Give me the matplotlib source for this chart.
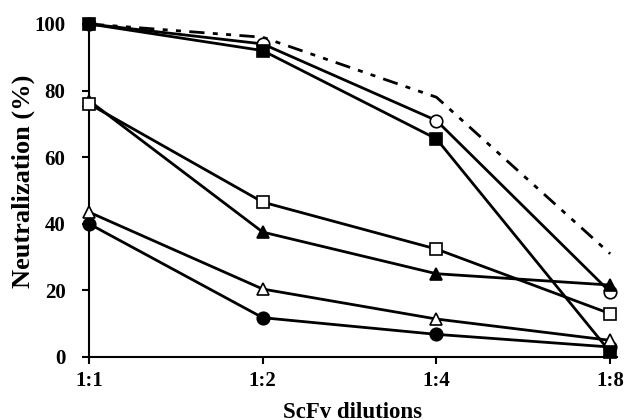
import matplotlib
matplotlib.use("Agg")
import matplotlib.pyplot as plt

dilutions = ["1:1", "1:2", "1:4", "1:8"]
filled_square = [100, 92, 65.5, 1.5]
open_circle = [100, 94, 71, 19.5]
dash_dot = [100, 96, 78, 31]
open_square = [76, 46.5, 32.4, 13]
filled_triangle = [77, 37.5, 25, 21.6]
open_triangle = [43.5, 20.4, 11.4, 5]
filled_circle = [40, 11.8, 6.8, 3]

plt.rcParams["font.family"] = "Liberation Serif"
plt.rcParams["font.weight"] = "bold"

fig = plt.figure(figsize=(6.25, 4.2), dpi=100)
ax = fig.add_axes([0.1424, 0.15, 0.845, 0.793])
x = list(range(len(dilutions)))

ax.plot(x, dash_dot, color="black", lw=2, ls=(0, (5.5, 3, 1.8, 3, 1.8, 3)),
        clip_on=False, zorder=2)

# drawing order matters where markers overlap (1:1 and 1:8)
series = [
    (open_circle, "o", "white"),
    (filled_square, "s", "black"),
    (filled_triangle, "^", "black"),
    (open_square, "s", "white"),
    (filled_circle, "o", "black"),
    (open_triangle, "^", "white"),
]
for vals, mk, fc in series:
    ax.plot(x, vals, color="black", lw=2, marker=mk, markersize=9,
            markerfacecolor=fc, markeredgecolor="black", markeredgewidth=1.2,
            clip_on=False, zorder=3)

ax.set_xlim(0, 3.04)
ax.set_ylim(0, 100)
ax.set_xticks(x)
ax.set_xticklabels(dilutions)
ax.set_yticks([0, 20, 40, 60, 80, 100])
ax.spines["top"].set_visible(False)
ax.spines["right"].set_visible(False)
ax.spines["left"].set_linewidth(1.5)
ax.spines["bottom"].set_linewidth(1.5)
ax.tick_params(direction="out", length=5, width=1.5, labelsize=15)
ax.tick_params(axis="y", pad=12)
ax.tick_params(axis="x", pad=5)

ax.set_xlabel("ScFv dilutions", fontsize=16.5, fontweight="bold")
ax.xaxis.set_label_coords(0.498, -0.135)
ax.set_ylabel("Neutralization (%)", fontsize=19, fontweight="bold")
ax.yaxis.set_label_coords(-0.125, 0.527)
ax.yaxis.label.set_va("center")

fig.savefig("out.png", dpi=100, facecolor="white")
